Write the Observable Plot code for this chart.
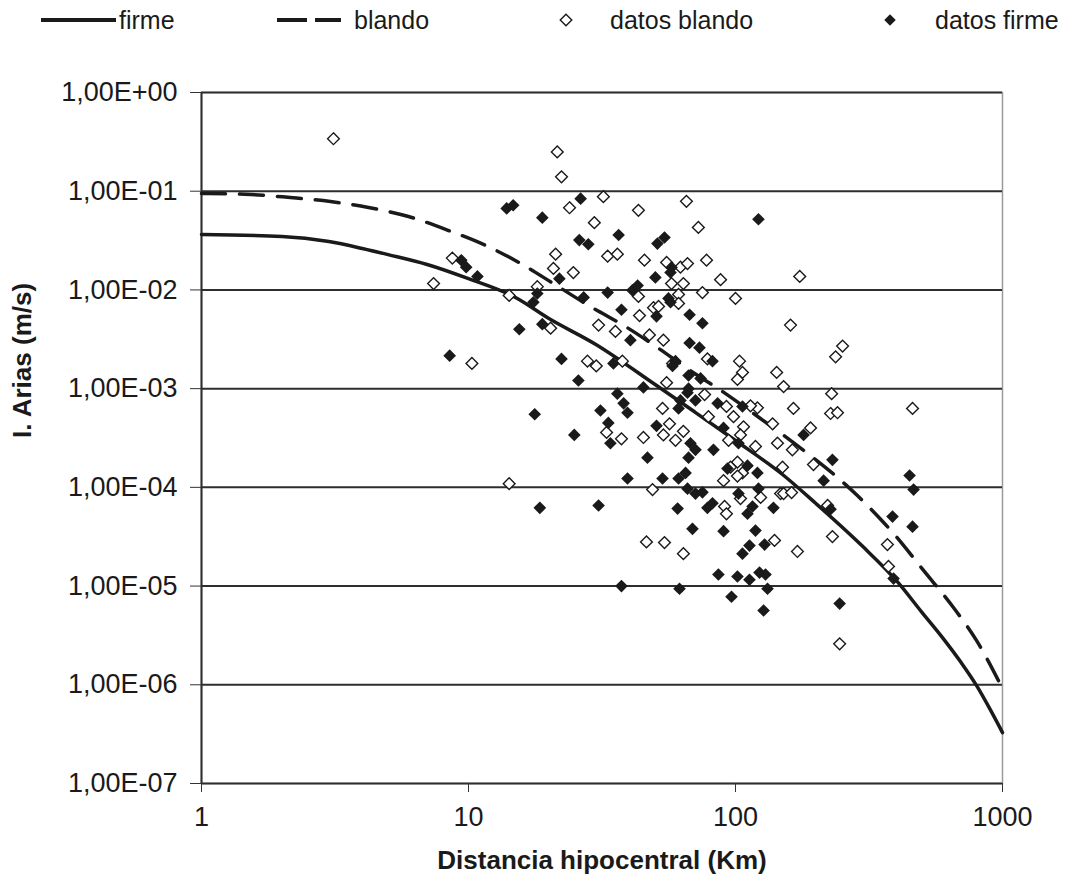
<!DOCTYPE html>
<html>
<head>
<meta charset="utf-8">
<script src="https://cdn.jsdelivr.net/npm/d3@7"></script>
<script src="https://cdn.jsdelivr.net/npm/@observablehq/plot@0.6"></script>
<style>
  body { margin: 0; background: #fff; }
  #legend { display: block; }
  #chart svg { display: block; }
</style>
</head>
<body>
<svg id="legend" width="1069" height="40"></svg>
<div id="chart"></div>
<script>
// Axis ticks and their labels
const xTicks = [1, 10, 100, 1000];
const xTickLabels = ["1", "10", "100", "1000"];
const yTicks = [1, 1e-1, 1e-2, 1e-3, 1e-4, 1e-5, 1e-6, 1e-7];
const yTickLabels = ["1,00E+00", "1,00E-01", "1,00E-02", "1,00E-03", "1,00E-04", "1,00E-05", "1,00E-06", "1,00E-07"];
const xTitle = "Distancia hipocentral (Km)";
const yTitle = "I. Arias (m/s)";
const seriesNames = ["firme", "blando", "datos blando", "datos firme"];

// Attenuation curve, firm ground: distance (km), Arias intensity (m/s)
const firmeDist = [1, 2, 3, 4, 5, 7, 10, 15, 20, 30, 50, 70, 100, 150, 200, 300, 400, 500, 600, 700, 800, 900, 1000];
const firmeIA = [0.0364, 0.0348, 0.0309, 0.0263, 0.0228, 0.0181, 0.0130, 0.00838, 0.00513, 0.00280,
  0.00110, 0.000586, 0.000298, 0.000135, 6.86e-5, 2.51e-5, 1.14e-5, 5.39e-6, 2.94e-6, 1.68e-6, 9.8e-7, 5.6e-7, 3.28e-7];

// Attenuation curve, soft ground
const blandoDist = [1, 1.53, 2.15, 3.04, 4.22, 5.96, 8.42, 11.6, 15.7, 20.8, 28.6, 38.7, 51.0, 67.8,
  91.8, 124, 161, 286, 391, 506, 655, 800, 1000];
const blandoIA = [0.0948, 0.0926, 0.0863, 0.0787, 0.0684, 0.0554, 0.0400, 0.0282, 0.0185, 0.0116,
  0.00679, 0.00426, 0.00261, 0.00152, 0.000891, 0.000498, 0.000298, 8.26e-5, 3.40e-5, 1.44e-5, 6.06e-6, 2.8e-6, 9.15e-7];

// Recorded values, soft ground: [distance, intensity]
const datosBlando = [
  [3.12,0.34],[21.5,0.25],[22.3,0.14],[23.9,0.068],[29.6,0.048],[8.7,0.021],[21.2,0.023],[20.8,0.0165],
  [24.7,0.015],[7.4,0.0116],[18.1,0.0108],[14.2,0.0088],[32.0,0.088],[65.5,0.079],[43.3,0.064],[72.6,0.043],
  [33.2,0.022],[36.1,0.023],[45.6,0.020],[55.2,0.019],[62.2,0.017],[66.1,0.0185],[77.9,0.020],[87.9,0.0127],
  [57.6,0.0116],[63.8,0.0116],[61.2,0.0090],[43.3,0.0086],[75.2,0.0094],[100,0.0082],[174,0.0137],[20.3,0.0041],
  [10.3,0.0018],[27.9,0.0019],[30.1,0.0017],[30.7,0.0044],[14.2,0.000109],
  [49.3,0.0066],[51.5,0.0068],[61.2,0.0073],[43.7,0.0055],[35.5,0.0038],[47.6,0.0035],[53.7,0.0031],[37.7,0.0019],
  [58.1,0.0018],[78.5,0.0020],[103.5,0.0019],[106.2,0.00146],[101.7,0.00124],[142.6,0.00146],[55.2,0.00115],
  [76.6,0.00087],[92.5,0.00066],[53.3,0.00063],[79.2,0.00052],[98.3,0.00052],[120.8,0.00064],[113.8,0.00067],
  [137.7,0.00044],[56.6,0.00044],[107.2,0.00041],[32.9,0.00036],[37.4,0.00031],[45.2,0.00032],[53.7,0.00034],
  [59.6,0.00030],[63.8,0.00037],[104.4,0.00034],[94.2,0.00030],[118.8,0.00026],[143.6,0.00028],[101.7,0.00018],
  [95.8,0.00016],[106.2,0.00014],[101.7,0.00013],
  [160.7,0.0044],[251.8,0.0027],[237.1,0.0021],[151.4,0.00105],[229.1,0.00089],[164.8,0.00063],[227.0,0.00056],
  [241.0,0.00057],[460.3,0.00063],[191.0,0.00040],[163.3,0.00024],[195.9,0.00017],[150.0,0.00016],
  [48.9,9.5e-5],[90.2,0.000117],[104.4,7.7e-5],[124.2,7.9e-5],[147.5,8.65e-5],[91.0,6.4e-5],[92.5,5.4e-5],
  [46.4,2.8e-5],[54.2,2.76e-5],[63.8,2.13e-5],[140.0,2.9e-5],
  [151.4,8.65e-5],[162.2,8.86e-5],[221.3,6.55e-5],[230.7,3.17e-5],[170.6,2.24e-5],[370.7,2.63e-5],
  [374.1,1.58e-5],[245.5,2.6e-6]
];

// Recorded values, firm ground: [distance, intensity]
const datosFirme = [
  [8.5,0.00216],[13.9,0.067],[14.7,0.072],[18.9,0.054],[26.3,0.084],[26.0,0.032],[28.1,0.029],[9.4,0.020],
  [9.8,0.017],[10.8,0.0137],[21.9,0.0130],[18.1,0.0092],[27.0,0.0084],[36.5,0.036],[51.0,0.0295],[54.2,0.034],
  [121.9,0.052],[57.6,0.0169],[57.1,0.015],[50.1,0.0134],[33.2,0.0094],[41.1,0.0099],[43.0,0.0111],[56.1,0.0082],
  [17.5,0.0075],[15.5,0.0040],[18.9,0.0045],[22.3,0.0020],[25.8,0.00121],[17.7,0.00055],[24.9,0.00034],
  [31.2,0.00060],[18.5,6.2e-5],[30.7,6.55e-5],
  [37.4,0.0063],[50.6,0.0054],[57.1,0.0075],[67.3,0.0056],[75.2,0.0046],[40.4,0.0031],[67.3,0.0029],[73.3,0.0026],
  [34.9,0.0018],[82.0,0.0019],[59.6,0.0019],[58.1,0.0017],[66.7,0.00136],[74.0,0.00127],[45.2,0.00103],
  [66.1,0.00091],[62.2,0.00076],[70.8,0.00076],[66.7,0.0010],[36.1,0.00089],[38.1,0.00071],[39.4,0.00057],
  [61.2,0.00063],[85.7,0.00071],[106.2,0.00066],[33.4,0.00045],[50.6,0.00042],[90.2,0.00040],[34.0,0.00028],
  [67.8,0.00028],[70.8,0.00024],[82.7,0.00024],[102.6,0.00028],[46.8,0.00020],[66.7,0.00020],[65.0,0.00014],
  [93.3,0.000155],[110.9,0.000166],[120.8,0.00014],[39.4,0.000123],[53.3,0.000123],[61.2,0.000123],
  [66.1,9.7e-5],[70.8,8.65e-5],[75.2,8.9e-5],[102.6,8.65e-5],[121.9,9.7e-5],[60.7,6.1e-5],[78.5,6.2e-5],
  [82.0,6.9e-5],[115.8,6.4e-5],[110.9,5.4e-5],[138.7,6.2e-5],[69.0,3.8e-5],[90.2,3.6e-5],[118.8,3.65e-5],
  [112.8,2.57e-5],[106.2,2.13e-5],[128.5,2.63e-5],[86.3,1.31e-5],[101.7,1.25e-5],[112.8,1.16e-5],[123.0,1.37e-5],
  [129.5,1.31e-5],[37.4,1.0e-5],[61.7,9.4e-6],[131.8,9.4e-6],[96.6,7.8e-6],[127.4,5.65e-6],
  [213.8,0.000117],[464.5,9.5e-5],[227.0,6.0e-5],[387.3,5.06e-5],[460.3,4.0e-5],[390.8,1.19e-5],[245.5,6.65e-6],
  [179.9,0.00034],[230.7,0.00019],[448.7,0.000132]
];

const FONT = "'Liberation Sans', Arial, Helvetica, sans-serif";
const INK = "#1a1a1a";

const firmeCurve = firmeDist.map((d, i) => ({dist: d, ia: firmeIA[i]}));
const blandoCurve = blandoDist.map((d, i) => ({dist: d, ia: blandoIA[i]}));

// Legend row above the plot
(function drawLegend() {
  const svg = d3.select("#legend").style("font-family", FONT);
  const cy = 20;
  svg.append("line").attr("x1", 41).attr("x2", 116).attr("y1", cy).attr("y2", cy)
    .attr("stroke", INK).attr("stroke-width", 4);
  svg.append("line").attr("x1", 277).attr("x2", 341).attr("y1", cy).attr("y2", cy)
    .attr("stroke", INK).attr("stroke-width", 4).attr("stroke-dasharray", "30,8");
  const dia = d3.symbol(d3.symbolDiamond2, Math.PI * 5.2 * 5.2);
  svg.append("path").attr("d", dia()).attr("transform", `translate(566,${cy})`)
    .attr("fill", "white").attr("stroke", INK).attr("stroke-width", 1.4);
  svg.append("path").attr("d", dia()).attr("transform", `translate(890,${cy})`)
    .attr("fill", INK);
  const textX = [119, 354, 610, 935];
  seriesNames.forEach((name, i) => {
    svg.append("text").attr("x", textX[i]).attr("y", cy + 9)
      .attr("font-size", 25).attr("fill", INK).text(name);
  });
})();

const chart = Plot.plot({
  width: 1069,
  height: 849,
  marginLeft: 201,
  marginRight: 67,
  marginTop: 52,
  marginBottom: 106,
  style: {fontFamily: FONT, fontSize: "27px", color: INK, background: "white", overflow: "visible"},
  x: {type: "log", domain: [1, 1000]},
  y: {type: "log", domain: [1e-7, 1]},
  marks: [
    Plot.frame({stroke: "#9a9a9a", strokeWidth: 1.5}),
    Plot.ruleY(yTicks, {stroke: "#2e2e2e", strokeWidth: 2}),
    Plot.ruleX([1], {stroke: "#2e2e2e", strokeWidth: 2}),
    Plot.axisY({
      ticks: yTicks,
      tickFormat: d => yTickLabels[yTicks.indexOf(d)],
      tickSize: 11,
      tickPadding: 13,
      label: null,
      stroke: "#333"
    }),
    Plot.axisX({
      ticks: xTicks,
      tickFormat: d => xTickLabels[xTicks.indexOf(d)],
      tickSize: 9,
      tickPadding: 14,
      label: null,
      stroke: "#333"
    }),
    Plot.line(firmeCurve, {x: "dist", y: "ia", stroke: INK, strokeWidth: 3.5, curve: "monotone-x"}),
    Plot.line(blandoCurve, {x: "dist", y: "ia", stroke: INK, strokeWidth: 3.5, strokeDasharray: "24,14", curve: "monotone-x"}),
    Plot.dot(datosBlando, {x: d => d[0], y: d => d[1], symbol: "diamond2", r: 5.3, fill: "white", stroke: INK, strokeWidth: 1.4}),
    Plot.dot(datosFirme, {x: d => d[0], y: d => d[1], symbol: "diamond2", r: 5.7, fill: INK, stroke: "none"}),
    Plot.text([yTitle], {text: d => d, frameAnchor: "left", dx: -179, rotate: -90, fontWeight: "bold", fontSize: 26, fill: INK}),
    Plot.text([xTitle], {text: d => d, frameAnchor: "bottom", dy: 85, fontWeight: "bold", fontSize: 26, fill: INK})
  ]
});

document.getElementById("chart").appendChild(chart);
</script>
</body>
</html>
